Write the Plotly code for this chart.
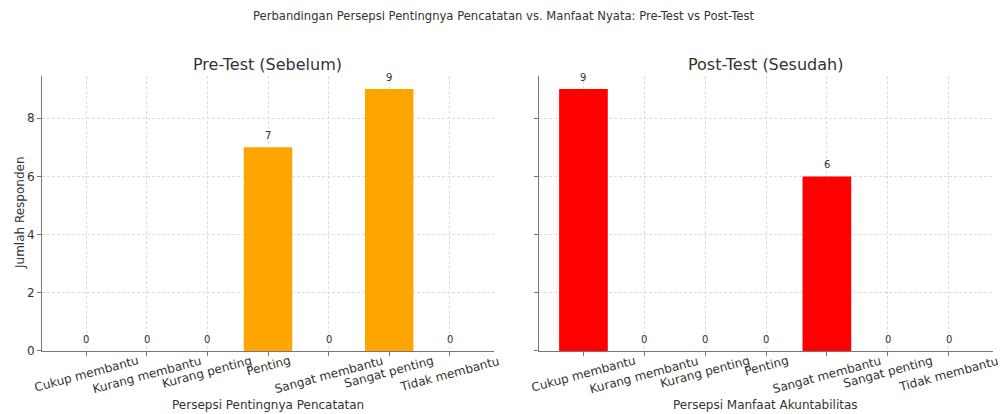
import plotly.graph_objects as go

categories = ["Cukup membantu", "Kurang membantu", "Kurang penting", "Penting",
              "Sangat membantu", "Sangat penting", "Tidak membantu"]
pre_values = [0, 0, 0, 7, 0, 9, 0]
post_values = [9, 0, 0, 0, 6, 0, 0]
yticks = [0, 2, 4, 6, 8]

FONT = "DejaVu Sans"
TXT = "#333333"
AXC = "#777777"
GRID = "#dcdcdc"

fig = go.Figure()
fig.add_trace(go.Bar(x=categories, y=pre_values, marker_color="#FFA500",
                     marker_line_width=0, width=0.8, xaxis="x", yaxis="y"))
fig.add_trace(go.Bar(x=categories, y=post_values, marker_color="#FF0000",
                     marker_line_width=0, width=0.8, xaxis="x2", yaxis="y2"))

annotations = []
for xa, ya, vals in (("x", "y", pre_values), ("x2", "y2", post_values)):
    for c, v in zip(categories, vals):
        annotations.append(dict(x=c, y=v, xref=xa, yref=ya, text=str(v),
                                showarrow=False, yanchor="bottom", yshift=4,
                                font=dict(family=FONT, size=10, color=TXT)))
        # rotated, centred category tick labels (matplotlib style)
        annotations.append(dict(x=c, y=0, xref=xa, yref=ya, text=c, textangle=-15,
                                showarrow=False, yanchor="top", xanchor="center",
                                yshift=0,
                                font=dict(family=FONT, size=12, color=TXT)))

annotations += [
    dict(text="Pre-Test (Sebelum)", x=0.2677, y=1 - 64 / 414, xref="paper", yref="paper",
         showarrow=False, yanchor="middle", xanchor="center",
         font=dict(family=FONT, size=16, color=TXT)),
    dict(text="Post-Test (Sesudah)", x=0.765, y=1 - 64 / 414, xref="paper", yref="paper",
         showarrow=False, yanchor="middle", xanchor="center",
         font=dict(family=FONT, size=16, color=TXT)),
    dict(text="Persepsi Pentingnya Pencatatan", x=0.2677, y=1 - 405 / 414,
         xref="paper", yref="paper", showarrow=False, yanchor="middle", xanchor="center",
         font=dict(family=FONT, size=12, color=TXT)),
    dict(text="Persepsi Manfaat Akuntabilitas", x=0.765, y=1 - 405 / 414,
         xref="paper", yref="paper", showarrow=False, yanchor="middle", xanchor="center",
         font=dict(family=FONT, size=12, color=TXT)),
    dict(text="Jumlah Responden", x=20 / 1001, y=1 - 213 / 414, textangle=-90,
         xref="paper", yref="paper", showarrow=False, yanchor="middle", xanchor="center",
         font=dict(family=FONT, size=12, color=TXT)),
]

xcommon = dict(type="category", range=[-0.73, 6.73], automargin=False,
               showticklabels=False,
               showline=True, linecolor=AXC, linewidth=1.2,
               ticks="outside", ticklen=4, tickcolor=AXC,
               showgrid=True, gridcolor=GRID, griddash="3px,2px", gridwidth=0.8,
               zeroline=False)
ycommon = dict(range=[0, 9.45], tickvals=yticks, automargin=False,
               showline=True, linecolor=AXC, linewidth=1.2,
               ticks="outside", ticklen=4, tickcolor=AXC,
               showgrid=True, gridcolor=GRID, griddash="3px,2px", gridwidth=0.8,
               tickfont=dict(family=FONT, size=12, color=TXT), zeroline=False)

fig.update_layout(
    width=1001, height=414,
    margin=dict(l=0, r=0, t=0, b=0, autoexpand=False),
    paper_bgcolor="white", plot_bgcolor="white",
    showlegend=False,
    font=dict(family=FONT, color=TXT),
    title=dict(text="Perbandingan Persepsi Pentingnya Pencatatan vs. Manfaat Nyata: Pre-Test vs Post-Test",
               x=503.5 / 1001, xanchor="center", y=1 - 16 / 414, yanchor="middle",
               font=dict(family=FONT, size=11.6, color=TXT)),
    xaxis=dict(domain=[0.042, 0.4935], anchor="y", **xcommon),
    xaxis2=dict(domain=[0.5385, 0.992], anchor="y2", **xcommon),
    yaxis=dict(domain=[0.1522, 0.8164], anchor="x", **ycommon),
    yaxis2=dict(domain=[0.1522, 0.8164], anchor="x2", showticklabels=False, **ycommon),
    annotations=annotations,
)

fig.write_html("out.html", config={"displayModeBar": False},
               post_script="document.body.style.margin='0';document.body.style.overflow='hidden';")
